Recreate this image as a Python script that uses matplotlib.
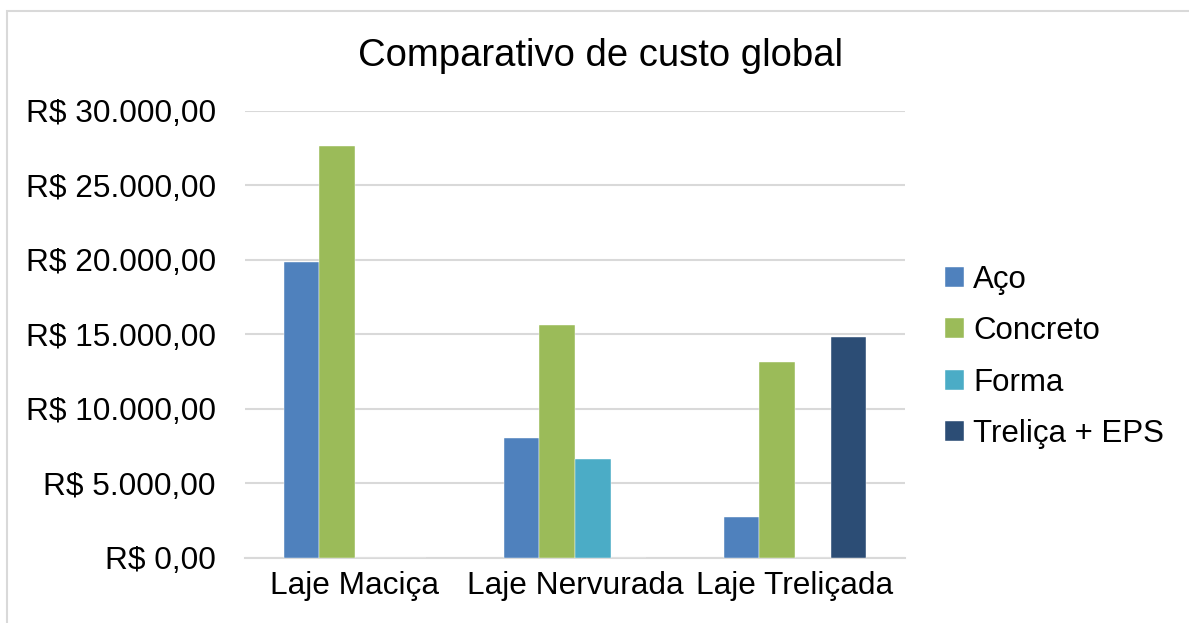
import numpy as np
import matplotlib.pyplot as plt
from matplotlib.patches import Rectangle
from matplotlib.ticker import FuncFormatter

plt.rcParams['font.family'] = ['Liberation Sans', 'DejaVu Sans']

# data
categories = ["Laje Maciça", "Laje Nervurada", "Laje Treliçada"]
series = ["Aço", "Concreto", "Forma", "Treliça + EPS"]
aco = [19870, 8010, 2700]
concreto = [27630, 15620, 13115]
forma = [0, 6620, 0]
trelica = [0, 0, 14815]
colors = ["#4F81BD", "#9BBB59", "#4BACC6", "#2C4D75"]


def brl(v, pos=None):
    s = f"{v:,.2f}"
    s = s.replace(",", "X").replace(".", ",").replace("X", ".")
    return "R$ " + s


fig = plt.figure(figsize=(11.89, 6.23), dpi=100)
ax = fig.add_axes([245 / 1189, 1 - 557.5 / 623, 660 / 1189, (557.5 - 111) / 623])

x = np.arange(len(categories))
gap = 2.19
width = 1 / (4 + gap)
values = [aco, concreto, forma, trelica]
for i, (name, vals) in enumerate(zip(series, values)):
    ax.bar(x + (i - 1.5) * width, vals, width, color=colors[i], label=name,
           edgecolor="white", linewidth=0.3, zorder=3)

ax.set_xlim(-0.5, 2.5)
ax.set_ylim(0, 30000)
ax.set_yticks(np.arange(0, 30001, 5000))
ax.yaxis.set_major_formatter(FuncFormatter(brl))
ax.set_xticks(x)
ax.set_xticklabels(categories)
ax.tick_params(axis="both", length=0, labelsize=22.8, colors="black")
ax.tick_params(axis="y", pad=21)
ax.tick_params(axis="x", pad=10)
ax.grid(axis="y", color="#D9D9D9", linewidth=1.5, zorder=0)
for s in ["top", "right", "left"]:
    ax.spines[s].set_visible(False)
ax.spines["bottom"].set_color("#D9D9D9")
ax.spines["bottom"].set_linewidth(1.5)

fig.text(600 / 1189, 1 - 56 / 623, "Comparativo de custo global",
         ha="center", va="center", fontsize=27.5)

ax.legend(loc="center left", bbox_to_anchor=(945 / 1189, 1 - 357 / 623),
          bbox_transform=fig.transFigure, frameon=False, fontsize=22.5,
          handlelength=0.6, handleheight=0.6, handletextpad=0.3,
          labelspacing=0.68, borderpad=0, borderaxespad=0)

fig.patches.append(Rectangle((7 / 1189, -0.5), 2, 1.5 - 11 / 623,
                             transform=fig.transFigure, fill=False,
                             edgecolor="#D9D9D9", linewidth=1.5))

fig.savefig("out.png", dpi=100)
